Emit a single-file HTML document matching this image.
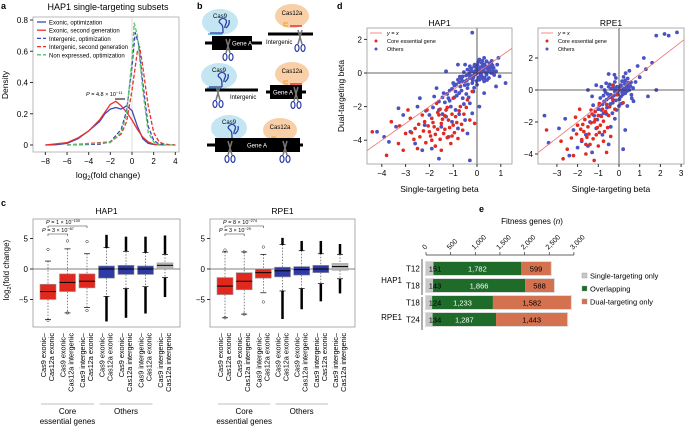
<!DOCTYPE html>
<html><head><meta charset="utf-8"><style>
body{margin:0;background:#fff}
svg{display:block;font-family:"Liberation Sans",sans-serif}
</style></head><body>
<svg id="fig" width="685" height="427" viewBox="0 0 685 427" xmlns="http://www.w3.org/2000/svg">
<g id="pa"></g>
<g id="pb"></g>
<g id="pc"></g>
<g id="pd"></g>
<g id="pe"></g>
</svg>
<script>
// ---------- Panel a data ----------
const aTicksX=[-8,-6,-4,-2,0,2,4];
const aTicksY=[0,0.2,0.4,0.6,0.8];
const aNames=["Exonic, optimization","Exonic, second generation","Intergenic, optimization","Intergenic, second generation","Non expressed, optimization"];
const aX1=[-8,-7,-6,-5,-4,-3,-2.5,-2,-1.5,-1,-0.5,0,0.5,1,1.5,2,3];
const aY1=[0,0.002,0.01,0.04,0.09,0.15,0.2,0.23,0.24,0.23,0.25,0.22,0.12,0.04,0.01,0.003,0];
const aX2=[-8,-6,-5,-4,-3,-2.5,-2,-1.5,-1,-0.5,0,0.5,1,1.5,2,3];
const aY2=[0,0.015,0.045,0.09,0.16,0.21,0.26,0.28,0.25,0.21,0.16,0.1,0.05,0.02,0.005,0];
const aX3=[-6,-3,-2,-1,-0.5,0,0.3,0.6,1,1.5,2,2.5,4];
const aY3=[0,0.005,0.02,0.1,0.22,0.5,0.72,0.65,0.4,0.12,0.03,0.005,0];
const aX4=[-6,-2,-1,-0.5,0,0.5,0.7,1,1.5,2,2.5,3,4];
const aY4=[0,0.02,0.07,0.15,0.35,0.6,0.63,0.5,0.25,0.08,0.02,0.005,0];
const aX5=[-6,-2,-1,-0.5,0,0.2,0.5,1,1.5,2,2.5,4];
const aY5=[0,0.015,0.08,0.2,0.55,0.78,0.7,0.35,0.08,0.02,0,0];
// ---------- Panel c data ----------
const cLab1=["Cas9 exonic–","Cas9 exonic–","Cas9 intergenic–","Cas9 exonic–","Cas9 exonic–","Cas9 intergenic–","Cas9 intergenic–"];
const cLab2=["Cas12a exonic","Cas12a intergenic","Cas12a exonic","Cas12a exonic","Cas12a intergenic","Cas12a exonic","Cas12a intergenic"];
const hMed=[-3.7,-2.2,-2,0,0,0,0.6], hQ1=[-5,-3.7,-3.1,-1.5,-0.9,-0.9,0], hQ3=[-2.5,-0.8,-0.8,0.5,0.6,0.5,1.0];
const hLo=[-8.3,-7.2,-6.3,-4.5,-3.2,-2.9,-1.4], hHi=[1.3,3.3,2.5,3.5,2.9,2.7,2.4];
const hOutLo=[-8.4,-7.2,-6.8,-8.6,-8.0,-7.3,-4.6], hOutHi=[3.2,4.6,4.5,5.6,5.3,5.3,5.5];
const rMed=[-2.8,-2.0,-0.6,-0.3,-0.1,0,0.4], rQ1=[-4.2,-3.4,-1.5,-1.3,-1.0,-0.6,-0.2], rQ3=[-1.4,-0.6,0,0.3,0.4,0.6,0.9];
const rLo=[-8,-7.4,-3.9,-3.6,-3.2,-2.4,-1.6], rHi=[2.8,2.8,2.4,4.0,3.0,2.5,2.4];
const rOutLo=[-8,-7.4,-5.4,-8.2,-6.6,-5.3,-4.0], rOutHi=[3.1,2.8,3.6,5.1,4.6,4.6,4.1];
const cColors=["#e0281e","#e0281e","#e0281e","#2f3aa6","#2f3aa6","#2f3aa6","#b5b5b5"];
const cTicks=[5,0,-5];
// ---------- Panel d data ----------
const hapOthers=[[0,0],[0.1,0.2],[-0.1,-0.1],[0.2,0.1],[0.3,0.3],[-0.2,0.1],[0.4,-0.1],[-0.3,-0.3],[0.1,-0.4],[0.5,0.4],[-0.4,0.2],[0.2,0.6],[0.6,0],[-0.5,-0.5],[0.3,-0.5],[-0.1,0.5],[0.4,0.7],[-0.6,-0.2],[0.7,0.3],[-0.3,0.4],[0,-0.7],[0.2,-0.2],[-0.2,-0.6],[0.5,-0.3],[-0.7,-0.8],[-0.8,-0.4],[0.1,0.8],[0.6,0.6],[-0.4,-0.9],[-0.9,-1.1],[-1,-0.6],[0.3,0.9],[0.8,0.1],[-0.5,0.5],[0,0.3],[0.15,-0.05],[-0.05,0.15],[0.35,0.05],[-0.15,-0.25],[0.25,0.45],[-1.2,-1.5],[-1.1,-2],[-1.4,-1.2],[-0.6,-1.5],[-0.3,-1.8],[-1.6,-2.2],[-1.8,-1.4],[-2,-2.5],[-1.3,-2.6],[-0.9,-2.2],[-0.2,-2.4],[-0.5,-2.8],[-1.5,-3.2],[-2.2,-3.1],[-2.5,-2],[-2.8,-3.5],[-3.1,-2.5],[-3.4,-3.2],[-3.7,-4.1],[-2.6,-4.2],[-1.9,-4.5],[-1.2,-3.8],[-0.8,-3.3],[-0.4,-3.6],[0.1,-2],[0.3,-1.2],[-1.7,-0.9],[-2.4,-1.5],[-3.3,-2.1],[-1.05,-2.9],[-0.15,-1.1],[-0.65,-0.35],[1.2,-0.6],[0.9,0.9],[0.8,-0.8],[-0.2,2.4],[-0.8,0.5],[-1.3,0.1],[-3.9,-3.8],[-4.2,-3.5],[-2.3,-4.6],[-1.6,-5.1],[-0.3,-5.2],[0.45,0.25],[-0.35,-0.05],[0.05,-0.3],[0.55,0.15],[-0.25,0.25],[0.15,0.35],[-0.45,-0.15],[0.25,-0.35],[0.65,0.45],[-0.55,0.05],[-0.75,-0.55],[-0.95,-0.75],[-1.15,-1.05],[-0.85,-1.35],[-1.35,-1.75],[-0.45,-1.25],[0.05,0.65],
[0.08,0.08],[-0.08,0.02],[0.18,-0.12],[-0.22,-0.18],[0.28,0.18],[0.38,0.38],[-0.12,0.38],[0.12,-0.22],[0.48,0.08],[-0.32,-0.12],[0.58,0.32],[0.02,0.48],[-0.42,-0.42],[0.32,-0.28],[-0.62,-0.48],[0.42,-0.42],[0.68,0.12],[-0.18,-0.42],[0.22,0.72],[0.52,0.58],[-0.52,-0.72],[-0.72,-0.22],[-0.28,0.08],[0.72,-0.12],[-0.88,-0.68],[-1.05,-0.95],[-1.25,-1.25],[-0.65,-1.05],[-0.38,-0.68],[-1.45,-1.45],[-1.15,-1.65],[-0.95,-1.45],[-0.75,-1.2],[-1.6,-1.7],[-0.55,-1.85],[-1.85,-2.05],[-2.15,-2.25],[-1.45,-2.45],[-0.75,-2.45],[0.62,0.72],[0.85,0.5],[0.95,-0.2],[-0.02,-0.48],[0.32,0.52],[-0.12,-0.88],[-0.35,-1.45]];
const hapCore=[[-1.5,-3],[-1.8,-3.2],[-1.2,-2.8],[-2,-3.5],[-1.4,-3.6],[-1,-3.1],[-2.2,-2.9],[-1.6,-2.5],[-1.3,-2.2],[-0.9,-2.6],[-0.7,-2],[-2.4,-3.8],[-2.6,-3.3],[-1.9,-4],[-1.1,-4.2],[-0.6,-3.4],[-2.8,-2.7],[-3,-3.6],[-3.3,-4.2],[-3.6,-2.9],[-2.1,-2.2],[-1.7,-1.8],[-0.4,-1.6],[-0.3,-2.8],[-1.5,-4.6],[-2.5,-4.5],[-1,-1.5],[-0.8,-3.9],[-2.3,-2.5],[-1.9,-2.7],[-1.35,-3.35],[-1.75,-3.65],[-1.05,-2.45],[-2.05,-3.15],[-0.55,-2.45],[-3.8,-4.9],[-4.4,-3.5],[-3.1,-4.6],[-0.2,-1.1],[-0.1,-3],[-2.9,-2.2],[-1.25,-3.85],[-1.55,-2.15],[-2.65,-3.95],[-0.95,-3.55],
[-1.45,-2.75],[-1.65,-3.35],[-1.15,-3.25],[-1.85,-2.95],[-2.25,-3.45],[-1.35,-2.55],[-0.85,-2.95],[-1.95,-3.75],[-1.55,-3.95],[-2.45,-3.05],[-0.75,-2.25],[-1.05,-3.75],[-2.15,-4.15],[-1.75,-4.35],[-0.65,-3.05],[-1.25,-2.05],[-2.75,-3.55],[-3.25,-3.15],[-0.45,-2.05],[-1.65,-2.35]];
const rpeOthers=[[0,0],[0.2,0.1],[-0.2,-0.1],[0.1,0.3],[-0.1,0.2],[0.3,-0.2],[-0.3,0.1],[0.4,0.3],[-0.4,-0.3],[0.5,0],[-0.5,0.2],[0.1,-0.4],[-0.2,0.5],[0.3,0.6],[-0.6,-0.6],[0.6,-0.3],[-0.7,0],[-0.8,-0.9],[-1,-1.2],[-0.9,-0.5],[-0.3,-0.8],[0,-1],[-1.2,-1.6],[-1.4,-2],[-0.6,-1.5],[-1.1,-2.4],[-1.6,-2.8],[-0.2,-1.8],[-1.8,-3.2],[-2,-3.6],[-2.2,-2.5],[-1.5,-3.5],[-0.8,-2.8],[-0.4,-2.3],[0.4,-1],[0.8,0.5],[1,0.8],[1.3,1.3],[1.6,1.7],[2.2,3.5],[2.4,3.4],[2.8,3.6],[1.8,3.4],[1.2,2],[0.9,1.5],[0.5,1.2],[-0.5,1],[-1.5,0],[-1.1,0.3],[-2.6,-1.8],[-2.9,-2.4],[-3.6,-1.6],[-3.4,-3.3],[-2.4,-4.1],[-1.3,-3.9],[-0.5,-3.4],[0.3,-2.5],[0.2,-3.7],[1.4,-0.4],[1.8,0],[0.7,-0.7],[-0.65,-0.15],[-0.35,-0.45],[0.15,0.55],[-0.85,-1.25],[-1.25,-0.95],[0.45,0.45],[-0.15,-0.65],[0.05,0.05],[-0.05,-0.25],[0.25,-0.05],[-0.45,0.35],[0.35,0.15],[-0.25,-0.35],[0.55,0.25],[-0.55,-0.25],[0.15,-0.15],[-0.75,-0.35],[-0.95,-0.95],[-0.15,0.75],
[0.08,0.18],[-0.08,-0.08],[0.18,-0.28],[-0.28,0.28],[0.28,0.38],[0.38,-0.08],[-0.38,0.08],[0.48,0.18],[-0.48,-0.48],[0.58,0.48],[-0.18,0.08],[0.02,-0.58],[-0.62,0.42],[0.22,0.82],[-0.72,-0.72],[0.68,0.12],[-0.42,-0.88],[-0.12,-1.25],[-0.75,-1.45],[-1.05,-1.85],[-0.32,-1.45],[0.12,-0.85],[-0.58,-1.1],[-0.9,-1.6],[0.42,0.72],[0.62,-0.52],[-0.22,0.95],[0.32,1.05],[-0.85,0.2],[-1.3,-0.4]];
const rpeCore=[[-1.2,-2],[-1,-1.6],[-1.5,-2.3],[-0.8,-1.2],[-1.3,-1.5],[-0.6,-0.9],[-1.7,-2.6],[-1.1,-2.8],[-0.9,-2.2],[-0.5,-1.6],[-2,-2.2],[-1.8,-3.1],[-1.4,-3.4],[-0.7,-2.6],[-0.3,-0.6],[-0.2,-1.2],[-2.3,-3],[-2.5,-3.7],[-1.6,-4],[-1,-3.5],[-0.4,-2.9],[-2.1,-1.7],[-1.9,-1.2],[-0.1,-0.3],[-1.15,-1.85],[-1.45,-2.75],[-0.75,-1.95],[-1.65,-1.85],[-0.95,-0.85],[-2.7,-4.3],[-3.5,-2.5],[-1.2,-4.4],[-0.6,-3.9],[0.2,-0.8],[-0.3,0.3],[-2.8,-3.2],[-1.35,-1.25],[-0.55,-2.35],[-1.85,-2.45],[-2.2,-4.1],
[-1.05,-2.35],[-1.35,-2.05],[-0.85,-1.65],[-1.55,-2.95],[-1.25,-3.05],[-0.65,-1.35],[-1.75,-2.15],[-0.95,-2.65],[-1.45,-1.65],[-1.15,-1.35],[-2.05,-2.75],[-0.45,-1.05],[-1.6,-3.4],[-0.75,-3.2]];
const hapTicksX=[-4,-3,-2,-1,0,1], hapTicksY=[2,0,-2,-4];
const rpeTicksX=[-3,-2,-1,0,1,2,3], rpeTicksY=[2,0,-2,-4];
// ---------- Panel e data ----------
const eGroups=["T12","T18","T18","T24"];
const eSingle=[151,143,124,134];
const eOverlap=[1782,1866,1233,1287];
const eDual=[599,588,1582,1443];
const eTicks=[0,500,1000,1500,2000,2500,3000];
const eTickLabels=["0","500","1,000","1,500","2,000","2,500","3,000"];

const NS="http://www.w3.org/2000/svg";
function mk(parent,tag,attrs,text){const e=document.createElementNS(NS,tag);for(const k in attrs)e.setAttribute(k,attrs[k]);if(text!==undefined)e.textContent=text;parent.appendChild(e);return e;}
function fmt(n){return n.toLocaleString('en-US');}

// ================= Panel a =================
(function(){
const g=document.getElementById('pa');
const X=v=>132+v*10.83, Y=v=>145-v*156.25;
let t=mk(g,'text',{x:1,y:9,'font-size':9,'font-weight':'bold'},'a');

t=mk(g,'text',{x:108,y:10,'font-size':9,'text-anchor':'middle'},'HAP1 single-targeting subsets');

mk(g,'line',{x1:X(0),x2:X(0),y1:17,y2:152,stroke:'#ddd','stroke-width':1});
const fr=mk(g,'rect',{x:33,y:17,width:146,height:135,fill:'none',stroke:'#aaa','stroke-width':0.8});

aTicksX.forEach(v=>{mk(g,'line',{x1:X(v),x2:X(v),y1:152,y2:155,stroke:'#333'});
 const l=mk(g,'text',{x:X(v),y:164,'font-size':8,'text-anchor':'middle'},v<0?'−'+(-v):String(v));
 });
aTicksY.forEach(v=>{mk(g,'line',{x1:30,x2:33,y1:Y(v),y2:Y(v),stroke:'#333'});
 const l=mk(g,'text',{x:28,y:Y(v)+3,'font-size':8,'text-anchor':'end'},v===0?'0':v.toFixed(1));
 });
t=mk(g,'text',{x:108,y:178,'font-size':8.5,'text-anchor':'middle'});
t.innerHTML='log<tspan font-size="6" dy="2">2</tspan><tspan dy="-2">(fold change)</tspan>';

t=mk(g,'text',{x:8,y:85,'font-size':8.5,'text-anchor':'middle',transform:'rotate(-90 8 85)'},'Density');

const series=[[aX1,aY1,'#3b48b5',''],[aX2,aY2,'#e8322a',''],[aX3,aY3,'#3b48b5','4 2'],[aX4,aY4,'#e8322a','4 2'],[aX5,aY5,'#55c46a','4 2']];
const keys=['line-exonic-optimization','line-exonic-second-gen','line-intergenic-optimization','line-intergenic-second-gen','line-nonexpressed-optimization'];
series.forEach((s,i)=>{const d=s[0].map((x,j)=>(j?'L':'M')+X(x).toFixed(1)+','+Y(s[1][j]).toFixed(1)).join('');
 const p=mk(g,'path',{d:d,fill:'none',stroke:s[2],'stroke-width':1.3,'stroke-dasharray':s[3],'stroke-linejoin':'round'});
 
 const ly=22+i*8.2;
 mk(g,'line',{x1:37,x2:46,y1:ly,y2:ly,stroke:s[2],'stroke-width':1.3,'stroke-dasharray':s[3]});
 const lt=mk(g,'text',{x:49,y:ly+2.5,'font-size':6},aNames[i]);
 });
t=mk(g,'text',{x:86,y:96,'font-size':5.5});
t.innerHTML='<tspan font-style="italic">P</tspan> = 4.8 × 10<tspan font-size="4" dy="-2">−11</tspan>';

mk(g,'line',{x1:115,x2:125,y1:99,y2:99,stroke:'#000','stroke-width':1});
})();

// ================= Panel b =================
(function(){
const g=document.getElementById('pb');
let t=mk(g,'text',{x:197,y:9,'font-size':9,'font-weight':'bold'},'b');

function cas9(x,y){const e=mk(g,'ellipse',{cx:x,cy:y,rx:18,ry:13,fill:'#c3e6f2'});
 
 mk(g,'text',{x:x,y:y-4,'font-size':6,'text-anchor':'middle'},'Cas9');
 mk(g,'path',{d:`M${x-10} ${y+11}H${x+3}M${x+3} ${y+11}c0-6 0-8 -3-10c-3-2 3-7 6-3c2 3 -2 5 -1 8M${x+6} ${y+6}c2-2 4-4 3-8`,fill:'none',stroke:'#2b3fa8','stroke-width':1.3});
 mk(g,'line',{x1:x-12,x2:x+2,y1:y+12,y2:y+12,stroke:'#2aa9de','stroke-width':1.3});}
function cas12(x,y){const e=mk(g,'ellipse',{cx:x,cy:y,rx:17,ry:12,fill:'#f8cfa6'});
 
 mk(g,'text',{x:x,y:y-1,'font-size':6,'text-anchor':'middle'},'Cas12a');
 mk(g,'path',{d:`M${x-4} ${y+7}h-4v3h4`,fill:'none',stroke:'#f0a020','stroke-width':1});
 mk(g,'line',{x1:x-2,x2:x+10,y1:y+10,y2:y+10,stroke:'#e02020','stroke-width':1.3});}
function sc(x,y){mk(g,'path',{d:`M${x-2} ${y-6}L${x+2} ${y+8}M${x+2} ${y-6}L${x-2} ${y+8}`,stroke:'#777','stroke-width':1.5});
 mk(g,'ellipse',{cx:x-3,cy:y+12,rx:2,ry:3.5,fill:'none',stroke:'#2b3fa8','stroke-width':1.2});
 mk(g,'ellipse',{cx:x+3,cy:y+12,rx:2,ry:3.5,fill:'none',stroke:'#2b3fa8','stroke-width':1.2});}
function gene(x1,x2,y,lx1,lx2,tx){mk(g,'line',{x1:lx1,x2:lx2,y1:y,y2:y,stroke:'#000','stroke-width':3});
 const r=mk(g,'rect',{x:x1,y:y-7,width:x2-x1,height:14,fill:'#000'});
 
 mk(g,'text',{x:tx,y:y+2.5,'font-size':6,fill:'#fff','text-anchor':'middle'},'Gene A');}
cas9(220,22);gene(212,252,43,205,262,242);sc(228,45);
cas12(292,16);mk(g,'line',{x1:268,x2:313,y1:34,y2:34,stroke:'#000','stroke-width':3});
mk(g,'text',{x:266,y:44,'font-size':6},'Intergenic');sc(300,36);
cas9(219,76);mk(g,'line',{x1:205,x2:258,y1:90,y2:90,stroke:'#000','stroke-width':3});
mk(g,'text',{x:230,y:99,'font-size':6},'Intergenic');sc(218,92);
cas12(292,74);gene(270,302,92,266,306,283);sc(296,93);
cas9(229,128);cas12(280,130);gene(215,300,145,207,303,257);sc(230,147);sc(285,147);
})();

// ================= Panel c =================
(function(){
const g=document.getElementById('pc');
let t=mk(g,'text',{x:1,y:206,'font-size':9,'font-weight':'bold'},'c');

t=mk(g,'text',{x:9,y:270,'font-size':8,'text-anchor':'middle',transform:'rotate(-90 9 270)'});
t.innerHTML='log<tspan font-size="5.5" dy="2">2</tspan><tspan dy="-2">(fold change)</tspan>';

function panel(x0,x1,title,med,q1,q3,lo,hi,olo,ohi,pA,pB,name){
 const Y=v=>269-v*6.1;
 const step=(x1-x0-30)/6, C=i=>x0+15+i*step;
 const tt=mk(g,'text',{x:(x0+x1)/2,y:214,'font-size':8.5,'text-anchor':'middle'},title);
 
 const fr=mk(g,'rect',{x:x0,y:219,width:x1-x0,height:108,fill:'none',stroke:'#999','stroke-width':0.8});
 
 cTicks.forEach(v=>{mk(g,'line',{x1:x0-3,x2:x0,y1:Y(v),y2:Y(v),stroke:'#333'});
  const l=mk(g,'text',{x:x0-5,y:Y(v)+3,'font-size':8,'text-anchor':'end'},v<0?'−'+(-v):String(v));
  });
 mk(g,'line',{x1:x0,x2:x1,y1:Y(0),y2:Y(0),stroke:'#555','stroke-width':0.8});
 med.forEach((m,i)=>{const cx=C(i),w=8;
  mk(g,'line',{x1:cx,x2:cx,y1:Y(hi[i]),y2:Y(q3[i]),stroke:'#333','stroke-width':0.6,'stroke-dasharray':'1.5 1.5'});
  mk(g,'line',{x1:cx,x2:cx,y1:Y(q1[i]),y2:Y(lo[i]),stroke:'#333','stroke-width':0.6,'stroke-dasharray':'1.5 1.5'});
  mk(g,'line',{x1:cx-3,x2:cx+3,y1:Y(hi[i]),y2:Y(hi[i]),stroke:'#000','stroke-width':0.7});
  mk(g,'line',{x1:cx-3,x2:cx+3,y1:Y(lo[i]),y2:Y(lo[i]),stroke:'#000','stroke-width':0.7});
  if(cColors[i]==='#e0281e'){
   mk(g,'circle',{cx:cx,cy:Y(ohi[i]),r:1.3,fill:'none',stroke:'#333','stroke-width':0.5});
   mk(g,'circle',{cx:cx,cy:Y(olo[i]),r:1.3,fill:'none',stroke:'#333','stroke-width':0.5});
  }else{
   mk(g,'line',{x1:cx,x2:cx,y1:Y(ohi[i]),y2:Y(hi[i]),stroke:'#000','stroke-width':2.5});
   mk(g,'line',{x1:cx,x2:cx,y1:Y(lo[i]),y2:Y(olo[i]),stroke:'#000','stroke-width':2.5});}
  const b=mk(g,'rect',{x:cx-w,y:Y(q3[i]),width:2*w,height:Y(q1[i])-Y(q3[i]),fill:cColors[i],stroke:'#999','stroke-width':0.6});
  
  mk(g,'line',{x1:cx-w,x2:cx+w,y1:Y(m),y2:Y(m),stroke:'#000','stroke-width':1});
  const l1=mk(g,'text',{x:cx-2,y:333,'font-size':7.3,'text-anchor':'end',transform:`rotate(-90 ${cx-2} 333)`},cLab1[i]);
  
  const l2=mk(g,'text',{x:cx+6,y:333,'font-size':7.3,'text-anchor':'end',transform:`rotate(-90 ${cx+6} 333)`},cLab2[i]);
  
 });
 function br(a,b2,y,txt,exp){mk(g,'path',{d:`M${C(a)} ${y+2}V${y}H${C(b2)}V${y+2}`,fill:'none',stroke:'#333','stroke-width':0.6});
  const p=mk(g,'text',{x:C(a)-6+(b2===1?0:4),y:y-2,'font-size':5.5});
  p.innerHTML=`<tspan font-style="italic">P</tspan> = ${txt} × 10<tspan font-size="3.8" dy="-2">${exp}</tspan>`;
  }
 br(0,2,226,pA[0],pA[1]);br(0,1,234,pB[0],pB[1]);
 mk(g,'line',{x1:C(0)-7,x2:C(2)+7,y1:404,y2:404,stroke:'#aaa','stroke-width':0.8});
 mk(g,'line',{x1:C(3)-7,x2:C(5)+7,y1:404,y2:404,stroke:'#aaa','stroke-width':0.8});
 let gl=mk(g,'text',{x:C(1),y:414,'font-size':8,'text-anchor':'middle'},'Core');
 
 mk(g,'text',{x:C(1),y:424,'font-size':8,'text-anchor':'middle'},'essential genes');
 gl=mk(g,'text',{x:C(4),y:414,'font-size':8,'text-anchor':'middle'},'Others');
 
}
panel(33,180,'HAP1',hMed,hQ1,hQ3,hLo,hHi,hOutLo,hOutHi,['1','−100'],['3','−87'],'hap1-boxplot');
panel(210,355,'RPE1',rMed,rQ1,rQ3,rLo,rHi,rOutLo,rOutHi,['8','−274'],['3','−29'],'rpe1-boxplot');
})();

// ================= Panel d =================
(function(){
const g=document.getElementById('pd');
let t=mk(g,'text',{x:337,y:9,'font-size':9,'font-weight':'bold'},'d');

t=mk(g,'text',{x:344,y:96,'font-size':8.5,'text-anchor':'middle',transform:'rotate(-90 344 96)'},'Dual-targeting beta');

function sp(x0,x1,ox,sx,oy,sy,tx,ty,others,core,title,name,clip){
 const X=v=>ox+v*sx, Y=v=>oy-v*sy;
 const tt=mk(g,'text',{x:(x0+x1)/2,y:26,'font-size':8.5,'text-anchor':'middle'},title);
 
 const cp=mk(g,'clipPath',{id:clip});mk(cp,'rect',{x:x0,y:28,width:x1-x0,height:136});
 const inner=mk(g,'g',{'clip-path':`url(#${clip})`});
 others.forEach(p=>{const c=mk(inner,'circle',{cx:X(p[0]),cy:Y(p[1]),r:1.9,fill:'#4a52c4'});
  });
 core.forEach(p=>{const c=mk(inner,'circle',{cx:X(p[0]),cy:Y(p[1]),r:1.8,fill:'#e02a22'});
  });
 mk(inner,'line',{x1:X(-6),y1:Y(-6),x2:X(6),y2:Y(6),stroke:'#f07070','stroke-width':0.8});
 mk(inner,'line',{x1:X(0),x2:X(0),y1:28,y2:164,stroke:'#333','stroke-width':0.8});
 mk(inner,'line',{x1:x0,x2:x1,y1:Y(0),y2:Y(0),stroke:'#333','stroke-width':0.8});
 const fr=mk(g,'rect',{x:x0,y:28,width:x1-x0,height:136,fill:'none',stroke:'#999','stroke-width':0.8});
 
 tx.forEach(v=>{mk(g,'line',{x1:X(v),x2:X(v),y1:164,y2:167,stroke:'#333'});
  const l=mk(g,'text',{x:X(v),y:176,'font-size':8,'text-anchor':'middle'},v<0?'−'+(-v):String(v));
  });
 ty.forEach(v=>{mk(g,'line',{x1:x0-3,x2:x0,y1:Y(v),y2:Y(v),stroke:'#333'});
  const l=mk(g,'text',{x:x0-5,y:Y(v)+3,'font-size':8,'text-anchor':'end'},v<0?'−'+(-v):String(v));
  });
 const xl=mk(g,'text',{x:(x0+x1)/2,y:192,'font-size':8.5,'text-anchor':'middle'},'Single-targeting beta');
 
 mk(g,'rect',{x:x0+1,y:29,width:60,height:24,fill:'#fff'});
 mk(g,'line',{x1:x0+3,x2:x0+15,y1:33,y2:33,stroke:'#f07070','stroke-width':0.8});
 let le=mk(g,'text',{x:x0+20,y:35,'font-size':5.5,'font-style':'italic'},'y = x');
 
 mk(g,'circle',{cx:x0+9,cy:41,r:1.5,fill:'#e02a22'});
 le=mk(g,'text',{x:x0+20,y:43,'font-size':5.5},'Core essential gene');
 
 mk(g,'circle',{cx:x0+9,cy:49,r:1.5,fill:'#4a52c4'});
 le=mk(g,'text',{x:x0+20,y:51,'font-size':5.5},'Others');
 
}
sp(367,512,477,23.8,73,16.8,hapTicksX,hapTicksY,hapOthers,hapCore,'HAP1','hap1-scatter','c1');
sp(538,684,619,20.7,90,16,rpeTicksX,rpeTicksY,rpeOthers,rpeCore,'RPE1','rpe1-scatter','c2');
})();

// ================= Panel e =================
(function(){
const g=document.getElementById('pe');
const X=v=>426+v*0.0493;
let t=mk(g,'text',{x:479,y:212,'font-size':9,'font-weight':'bold'},'e');

t=mk(g,'text',{x:532,y:224,'font-size':8,'text-anchor':'middle'});
t.innerHTML='Fitness genes (<tspan font-style="italic">n</tspan>)';

mk(g,'line',{x1:X(0),x2:X(3000),y1:255,y2:255,stroke:'#333','stroke-width':0.7});
eTicks.forEach((v,i)=>{mk(g,'line',{x1:X(v),x2:X(v),y1:252,y2:255,stroke:'#333','stroke-width':0.7});
 const l=mk(g,'text',{x:X(v)-1,y:250,'font-size':7,transform:`rotate(-45 ${X(v)-1} 250)`},eTickLabels[i]);
 });
mk(g,'line',{x1:422,x2:422,y1:259,y2:295,stroke:'#333','stroke-width':0.8});
mk(g,'line',{x1:422,x2:422,y1:297,y2:330,stroke:'#333','stroke-width':0.8});
let c=mk(g,'text',{x:402,y:283,'font-size':8,'text-anchor':'end'},'HAP1');

c=mk(g,'text',{x:402,y:320,'font-size':8,'text-anchor':'end'},'RPE1');

const tops=[262,279,296,313];
eGroups.forEach((gr,i)=>{const y=tops[i],h=13;
 const tl=mk(g,'text',{x:406,y:y+9.5,'font-size':8},gr);
 
 const a=eSingle[i],b=eOverlap[i],d=eDual[i];
 mk(g,'rect',{x:X(0)-1,y:y-1,width:X(a+b+d)-X(0)+2,height:h+2,fill:'#ddd'});
 let r=mk(g,'rect',{x:X(0),y:y,width:X(a)-X(0),height:h,fill:'#c8c8c8'});
 
 r=mk(g,'rect',{x:X(a),y:y,width:X(a+b)-X(a),height:h,fill:'#1e6b2a'});
 
 r=mk(g,'rect',{x:X(a+b),y:y,width:X(a+b+d)-X(a+b),height:h,fill:'#d4714e'});
 
 mk(g,'text',{x:X(0)+9,y:y+9.5,'font-size':7.5,'text-anchor':'middle'},fmt(a));
 mk(g,'text',{x:(X(a)+X(a+b))/2,y:y+9.5,'font-size':7.5,'text-anchor':'middle',fill:'#fff'},fmt(b));
 mk(g,'text',{x:(X(a+b)+X(a+b+d))/2,y:y+9.5,'font-size':7.5,'text-anchor':'middle'},fmt(d));
});
const lg=[['#c8c8c8','Single-targeting only'],['#1e6b2a','Overlapping'],['#d4714e','Dual-targeting only']];
lg.forEach((l,i)=>{const y=274+i*13;
 mk(g,'rect',{x:582,y:y-1,width:5,height:5,fill:l[0],stroke:'#999','stroke-width':0.4});
 const tx=mk(g,'text',{x:590,y:y+4.5,'font-size':7.5},l[1]);
 });
})();
</script>
</body></html>
